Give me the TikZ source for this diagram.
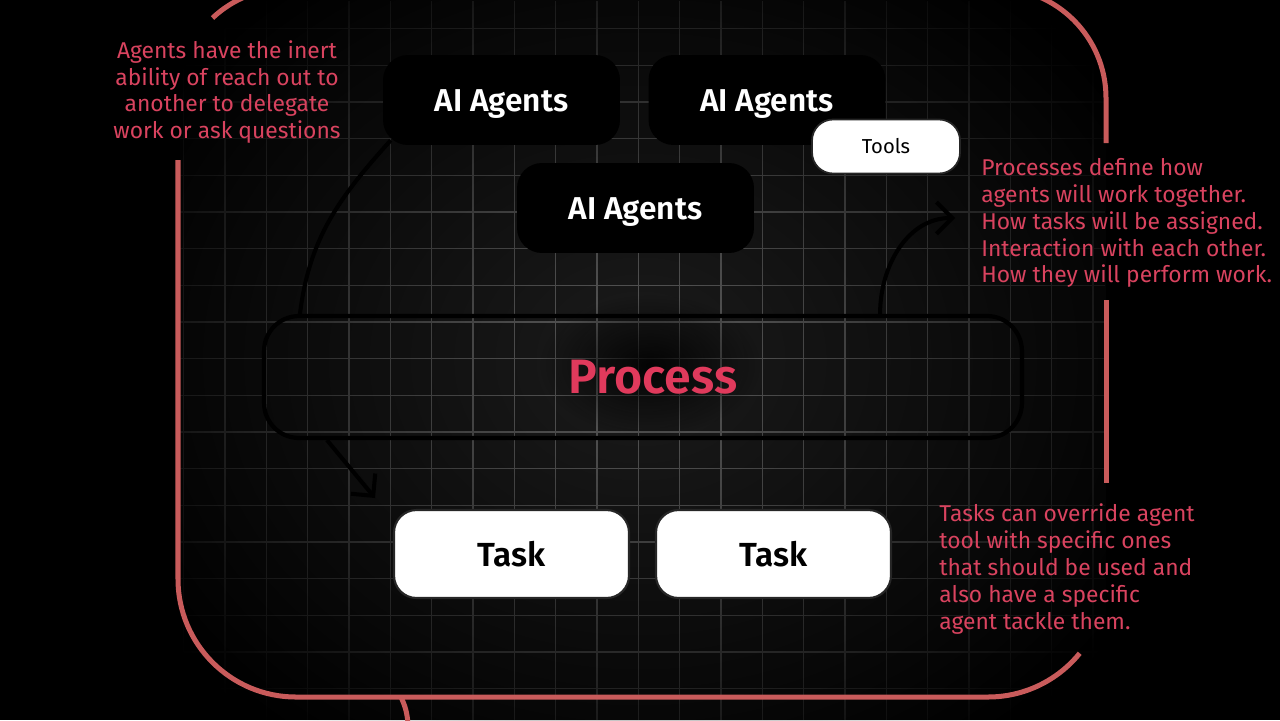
\documentclass[tikz,border=0pt]{standalone}
\usepackage{fontspec}
\setmainfont{Fira Sans}[BoldFont={Fira Sans SemiBold}]
\usetikzlibrary{arrows.meta,fadings}
\definecolor{rimred}{HTML}{C95B5B}
\definecolor{notered}{HTML}{D9435F}
\definecolor{procred}{HTML}{E03A5C}
\definecolor{gridgrey}{HTML}{5A5A5A}
\definecolor{coregrey}{HTML}{1C1C1C}
\tikzfading[name=glow, inner color=transparent!0, outer color=transparent!100]
\tikzset{
  agentbox/.style={fill=black, rounded corners=0.5cm, minimum width=4.74cm, minimum height=1.8cm,
    text height=0.62cm, text depth=0.15cm, text=white, font=\fontsize{18}{20}\selectfont\bfseries},
  taskbox/.style={fill=white, draw=black!85, line width=1.2pt, rounded corners=0.45cm,
    minimum width=4.7cm, minimum height=1.76cm, font=\fontsize{19}{21}\selectfont\bfseries},
  toolbox/.style={fill=white, draw=black!85, line width=1pt, rounded corners=0.42cm,
    minimum width=2.96cm, minimum height=1.08cm, font=\fontsize{11.5}{13}\selectfont},
  procbox/.style={draw=black, line width=2.4pt, rounded corners=0.7cm, minimum width=15.16cm,
    minimum height=2.44cm, text=procred, font=\fontsize{27.5}{30}\selectfont\bfseries},
  remark/.style={text=notered, font=\fontsize{13}{15.3}\selectfont, inner sep=0pt},
  linkline/.style={draw=black, line width=2.3pt},
  rim/.style={draw=rimred, line width=2.85pt},
}
\begin{document}
\begin{tikzpicture}[x=0.02cm, y=0.02cm]
  \useasboundingbox (0,0) rectangle (1280,-720);
  \fill[black] (0,0) rectangle (1280,-720);
  % faded grid inside the frame
  \begin{scope}
    \clip (180,0) rectangle (1106,-720);
    \fill[coregrey, path fading=glow] (60,120) rectangle (1220,-840);
    \draw[gridgrey, line width=0.7pt, path fading=glow] (60,120) (1220,-840)
      foreach \k in {0,...,22} {(184+41.35*\k,0) -- (184+41.35*\k,-720)}
      foreach \k in {-9,...,9} {(180,-358-36.7*\k) -- (1106,-358-36.7*\k)};
    \fill[black, path fading=glow, fill opacity=0.85] (650,-365) ellipse (110 and 70);
  \end{scope}
  % frame pieces
  \draw[rim] (212.5,-18) arc (133.3:90:110) -- (996,12) arc (90:0:110) -- (1106,-143);
  \draw[rim] (178,-160) -- (178,-579) arc (180:270:118) -- (988,-697) arc (270:321:118);
  \draw[rim] (1106,-300) -- (1106,-483);
  \draw[rim] (401,-697) to[bend left=10] (408,-724);
  % boxes
  \node[agentbox] (agentsA) at (501.5,-100) {AI Agents};
  \node[agentbox] (agentsB) at (767,-100) {AI Agents};
  \node[toolbox] (tools) at (886,-146.5) {Tools};
  \node[agentbox] (agentsC) at (635.5,-208) {AI Agents};
  \node[procbox] (process) at (643,-377) {\hspace{0.4cm}Process};
  \node[taskbox] (taskA) at (511.5,-554) {Task};
  \node[taskbox] (taskB) at (773.5,-554) {Task};
  % connectors
  \coordinate (tasktip) at (375,-498);
  \coordinate (proctip) at (955,-218);
  \draw[linkline] ([xshift=0.16cm,yshift=0.1cm]agentsA.south west) to[out=228,in=83] ([xshift=0.76cm]process.north west);
  \draw[linkline, -{Straight Barb[length=9pt,width=18pt]}] ([xshift=1.3cm]process.south west) -- (tasktip);
  \draw[linkline, -{Straight Barb[length=9pt,width=18pt]}] ([xshift=-2.88cm]process.north east) to[out=90,in=180] (proctip);
  % notes
  \node[remark, align=center] (agentsnote) at (227,-92)
    {Agents have the inert\\ability of reach out to\\another to delegate\\work or ask questions};
  \node[remark, align=left, anchor=west] (processnote) at (981,-223)
    {Processes define how\\agents will work together.\\How tasks will be assigned.\\Interaction with each other.\\How they will perform work.};
  \node[remark, align=left, anchor=west] (tasknote) at (939,-569)
    {Tasks can override agent\\tool with specific ones\\that should be used and\\also have a specific\\agent tackle them.};
\end{tikzpicture}
\end{document}
